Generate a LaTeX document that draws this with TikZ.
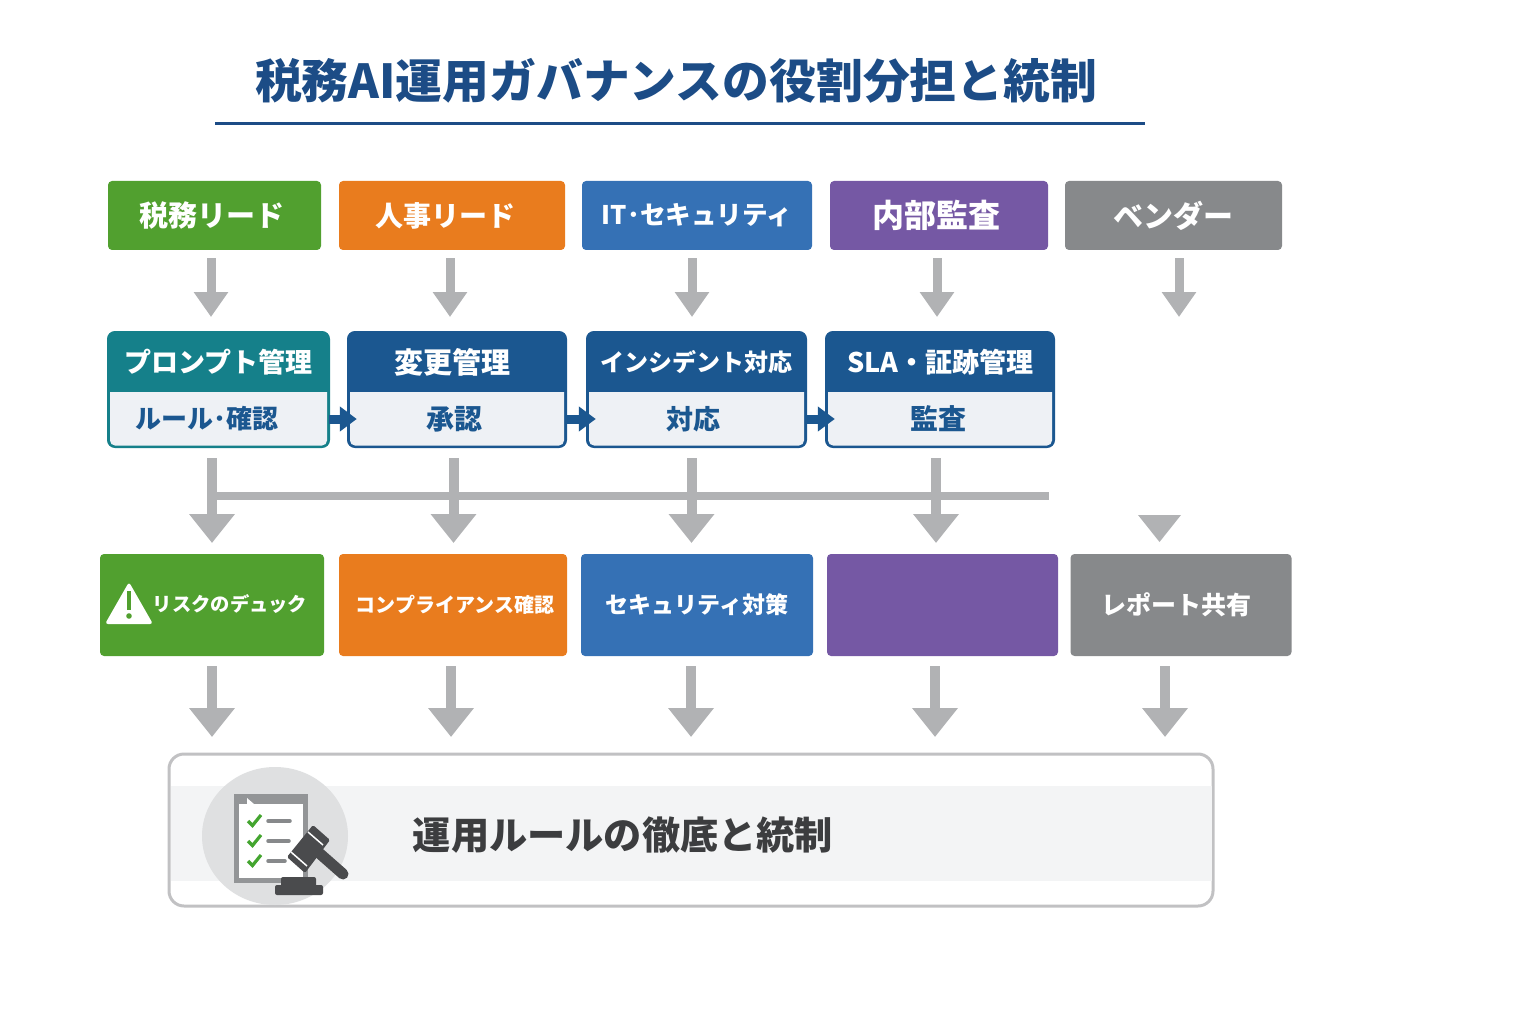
\documentclass[tikz,border=0pt]{standalone}
\usepackage{fontspec}
\setmainfont{Noto Sans CJK JP}
\usetikzlibrary{arrows.meta}
\usetikzlibrary{positioning}

\definecolor{titleblue}{HTML}{1C4C86}
\definecolor{leafgreen}{HTML}{51A02F}
\definecolor{deeporange}{HTML}{E97C1E}
\definecolor{midblue}{HTML}{3571B5}
\definecolor{plumpurple}{HTML}{7558A4}
\definecolor{slategray}{HTML}{87898B}
\definecolor{tealhead}{HTML}{15808A}
\definecolor{navyhead}{HTML}{1B5790}
\definecolor{panelgray}{HTML}{EEF1F5}
\definecolor{flowgray}{HTML}{B1B2B4}
\definecolor{bandgray}{HTML}{F3F4F5}
\definecolor{discgray}{HTML}{DFE0E1}
\definecolor{inkgray}{HTML}{3C3D3F}
\definecolor{toolgray}{HTML}{4A4B4D}
\definecolor{checkgreen}{HTML}{43A52F}

\tikzset{
	colorbox/.style={rectangle, rounded corners=4pt, inner sep=0pt, text=white, font=\fontsize{#1}{#1}\selectfont\bfseries},
	cardhead/.style={inner sep=0pt, text=white, font=\fontsize{#1}{#1}\selectfont\bfseries},
	cardsub/.style={inner sep=0pt, text=navyhead, font=\fontsize{#1}{#1}\selectfont\bfseries},
	flowthin/.style={draw=flowgray, line width=9pt, -{Triangle[length=25pt,width=33pt,fill=flowgray]}},
	flowwide/.style={draw=flowgray, line width=10pt, -{Triangle[length=29pt,width=44pt,fill=flowgray]}},
	cardlink/.style={draw=navyhead, line width=9pt, shorten >=-9pt, -{Triangle[length=17pt,width=24pt,fill=navyhead]}}
}

\begin{document}
\begin{tikzpicture}[x=1pt,y=-1pt]
	\useasboundingbox (0,0) rectangle (1536,1024);

	% title
	\node[text=titleblue, inner sep=0pt, font=\fontsize{46.8}{47}\selectfont\bfseries] (title) at (676,81) {税務AI運用ガバナンスの役割分担と統制};
	\coordinate (ruleL) at (215,124);
	\coordinate (ruleR) at (1145,124);
	\draw[titleblue, line width=3pt] (ruleL) -- (ruleR);

	% owners
	\node[colorbox=29, fill=leafgreen, minimum width=213pt, minimum height=69pt] (lead1) at (214.5,215.5) {\hspace*{-6pt}税務リード};
	\node[colorbox=28, fill=deeporange, minimum width=226pt, minimum height=69pt] (lead2) at (452,215.5) {\hspace*{-14pt}人事リード};
	\node[colorbox=25.6, fill=midblue, minimum width=230pt, minimum height=69pt] (lead3) at (697,215.5) {IT･セキュリティ};
	\node[colorbox=32, fill=plumpurple, minimum width=218pt, minimum height=69pt] (lead4) at (939,215.5) {\hspace*{-5pt}内部監査};
	\node[colorbox=30, fill=slategray, minimum width=217pt, minimum height=69pt] (lead5) at (1173.5,215.5) {ベンダー};

	% tasks, outer box first and the pale panel on top of it
	\foreach \n/\l/\r/\c/\hs/\hx/\h/\ss/\sx/\s in {
		1/108/329/tealhead/27/0/プロンプト管理/26/-23/ルール･確認,
		2/348/566/navyhead/29/-10/変更管理/28/-5/承認,
		3/587/806/navyhead/24/0/インシデント対応/27/-6/対応,
		4/826/1054/navyhead/27/0/SLA・証跡管理/28/-4/監査} {
		\pgfmathsetmacro{\w}{\r-\l}
		\pgfmathsetmacro{\m}{(\r+\l)/2}
		\node[draw=\c, fill=\c, line width=2pt, rounded corners=7pt, minimum width=\w pt, minimum height=115pt, inner sep=0pt] (card\n) at (\m,389.5) {};
		\fill[panelgray] (\l+2,392) -- (\r-2,392) [rounded corners=5pt] -- (\r-2,445.5) -- (\l+2,445.5) [sharp corners] -- cycle;
		\node[cardhead=\hs] (head\n) at (\m,362) {\hspace*{\hx pt}\h};
		\node[cardsub=\ss, minimum width=\w pt, minimum height=40pt] (sub\n) at (\m,419) {\hspace*{\sx pt}\s};
	}

	% row of outcomes
	\node[colorbox=20, fill=leafgreen, minimum width=224pt, minimum height=102pt] (check1) at (212,605) {};
	\node[colorbox=20, fill=deeporange, minimum width=228pt, minimum height=102pt] (check2) at (453,605) {\hspace*{4pt}コンプライアンス確認};
	\node[colorbox=23, fill=midblue, minimum width=232pt, minimum height=102pt] (check3) at (697,605) {セキュリティ対策};
	\node[colorbox=23, fill=plumpurple, minimum width=231pt, minimum height=102pt] (check4) at (942.5,605) {};
	\node[colorbox=25, fill=slategray, minimum width=221pt, minimum height=102pt] (check5) at (1181,605) {\hspace*{-10pt}レポート共有};
	\node[text=white, inner sep=0pt, font=\fontsize{19.3}{20}\selectfont\bfseries] (risktext) at (230,604) {リスクのデュック};
	\fill[white, rounded corners=3pt] (129,582) -- (153,624) -- (105,624) -- cycle;
	\draw[leafgreen, line width=4.5pt] (129,591) -- (129,610);
	\fill[leafgreen] (129,616) circle (2.8pt);

	% shared bar
	\coordinate (busL) at (211,495.5);
	\coordinate (busR) at (1049,495.5);
	\draw[flowgray, line width=8pt] (busL) -- (busR);

	% arrow ends
	\coordinate (a1) at (211,317);
	\coordinate (a2) at (450,317);
	\coordinate (a3) at (692,317);
	\coordinate (a4) at (937,317);
	\coordinate (a5) at (1179,317);
	\coordinate (b1) at (212,543);
	\coordinate (b2) at (453.5,543);
	\coordinate (b3) at (691.5,543);
	\coordinate (b4) at (936,543);
	\coordinate (c1) at (212,737);
	\coordinate (c2) at (451,737);
	\coordinate (c3) at (691,737);
	\coordinate (c4) at (935,737);
	\coordinate (c5) at (1165,737);

	\begin{scope}[shorten <=8pt]
		\draw[flowthin] (lead1.south -| a1) -- (a1);
		\draw[flowthin] (lead2.south -| a2) -- (a2);
		\draw[flowthin] (lead3.south -| a3) -- (a3);
		\draw[flowthin] (lead4.south -| a4) -- (a4);
		\draw[flowthin] (lead5.south -| a5) -- (a5);
	\end{scope}
	\begin{scope}[shorten <=10pt]
		\draw[flowwide] (card1.south -| b1) -- (b1);
		\draw[flowwide] (card2.south -| b2) -- (b2);
		\draw[flowwide] (card3.south -| b3) -- (b3);
		\draw[flowwide] (card4.south -| b4) -- (b4);
		\draw[flowwide] (check1.south -| c1) -- (c1);
		\draw[flowwide] (check2.south -| c2) -- (c2);
		\draw[flowwide] (check3.south -| c3) -- (c3);
		\draw[flowwide] (check4.south -| c4) -- (c4);
		\draw[flowwide] (check5.south -| c5) -- (c5);
	\end{scope}
	\fill[flowgray] (1138,515) -- (1181,515) -- (1159.5,542) -- cycle;

	\draw[cardlink] (sub1.east) -- (sub2.west);
	\draw[cardlink] (sub2.east) -- (sub3.west);
	\draw[cardlink] (sub3.east) -- (sub4.west);

	% governance bar
	\node[draw=flowgray!80, fill=white, line width=3pt, rounded corners=15pt, minimum width=1044pt, minimum height=152pt, inner sep=0pt] (govern) at (691,830) {};
	\fill[bandgray] (171,786) rectangle (1211.5,881);
	\fill[discgray] (275,836) ellipse (73pt and 69pt);
	\node[text=inkgray, inner sep=0pt, font=\fontsize{38.2}{40}\selectfont\bfseries] (governtext) at (623,835) {運用ルールの徹底と統制};

	% clipboard
	\fill[slategray!90] (234,794) rectangle (308,883);
	\fill[white] (239,804) rectangle (303,878);
	\fill[white] (247,798) -- (254,804) -- (247,804) -- cycle;
	\foreach \y in {821,841,861} {
		\draw[checkgreen, line width=3.2pt] (248,\y) -- (252.5,\y+4.5) -- (261,\y-6);
	}
	\draw[slategray, line width=3.5pt, line cap=round] (268,821) -- (290,821);
	\draw[slategray, line width=3.5pt, line cap=round] (268,841) -- (289,841);
	\draw[slategray, line width=3.5pt, line cap=round] (268,861) -- (285,861);

	% gavel
	\draw[toolgray, line width=11pt, line cap=round] (318,852) -- (343,874);
	\fill[toolgray, rounded corners=1.5pt] (313,825) -- (330,840) -- (305,873) -- (287,857) -- cycle;
	\draw[white, line width=1.5pt] (308,832) -- (323,845);
	\draw[white, line width=1.5pt] (291,852) -- (307,866);
	\fill[toolgray, rounded corners=2pt] (281,877) rectangle (316,887);
	\fill[toolgray, rounded corners=2pt] (275,885) rectangle (323,895);
\end{tikzpicture}
\end{document}
